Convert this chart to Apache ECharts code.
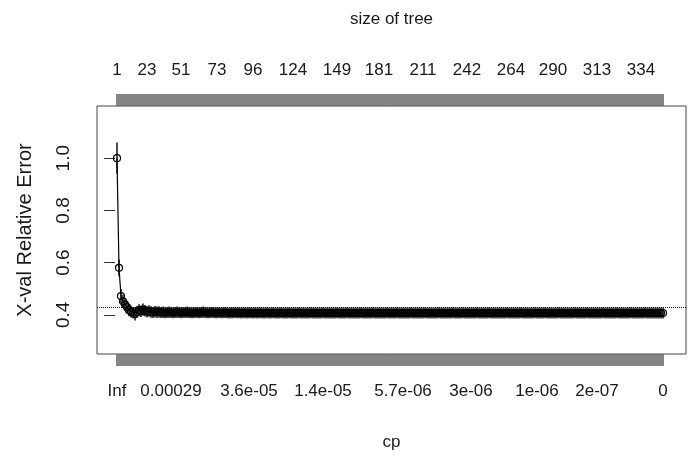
<!DOCTYPE html>
<html>
<head>
<meta charset="utf-8">
<title>cp plot</title>
<script src="https://cdn.jsdelivr.net/npm/echarts@6.0.0/dist/echarts.min.js"></script>
<style>
html, body { margin: 0; padding: 0; background: #fff; }
#chart { width: 692px; height: 456px; }
</style>
</head>
<body>
<div id="chart"></div>
<script>
// cross-validated relative error, one value per row of the cp table
var xerror = [
    1.000, 0.580, 0.472, 0.452, 0.440, 0.430, 0.418, 0.412, 0.408, 0.404,
    0.410, 0.418, 0.414, 0.420, 0.416, 0.412, 0.415, 0.411, 0.409, 0.412,
    0.410, 0.411, 0.409, 0.410, 0.408, 0.409, 0.410, 0.409, 0.408, 0.409,
    0.410, 0.409, 0.408, 0.409, 0.409, 0.410, 0.409, 0.408, 0.408, 0.409,
    0.409, 0.408, 0.409, 0.410, 0.409, 0.408, 0.408, 0.409, 0.409, 0.408,
    0.408, 0.409, 0.408, 0.408, 0.409, 0.408, 0.407, 0.408, 0.408, 0.409,
    0.408, 0.408, 0.407, 0.408, 0.408, 0.407, 0.408, 0.408, 0.407, 0.408,
    0.407, 0.408, 0.408, 0.407, 0.407, 0.408, 0.407, 0.407, 0.408, 0.407,
    0.407, 0.407, 0.408, 0.407, 0.407, 0.407, 0.408, 0.407, 0.407, 0.407,
    0.407, 0.408, 0.407, 0.407, 0.407, 0.407, 0.407, 0.408, 0.407, 0.407,
    0.407, 0.407, 0.407, 0.408, 0.407, 0.407, 0.407, 0.407, 0.407, 0.407,
    0.408, 0.407, 0.407, 0.407, 0.407, 0.408, 0.407, 0.407, 0.407, 0.407,
    0.407, 0.407, 0.408, 0.407, 0.407, 0.407, 0.407, 0.407, 0.408, 0.407,
    0.407, 0.407, 0.407, 0.407, 0.407, 0.408, 0.407, 0.407, 0.407, 0.407,
    0.408, 0.407, 0.407, 0.407, 0.407, 0.407, 0.407, 0.408, 0.407, 0.407,
    0.407, 0.407, 0.407, 0.407, 0.408, 0.407, 0.407, 0.407, 0.407, 0.407,
    0.407, 0.408, 0.407, 0.407, 0.407, 0.407, 0.407, 0.407, 0.408, 0.407,
    0.407, 0.407, 0.407, 0.408, 0.407, 0.407, 0.407, 0.407, 0.407, 0.407,
    0.408, 0.407, 0.407, 0.407, 0.407, 0.407, 0.408, 0.407, 0.407, 0.407,
    0.407, 0.407, 0.407, 0.407, 0.407, 0.408, 0.407, 0.407, 0.407, 0.407,
    0.407, 0.407, 0.408, 0.407, 0.407, 0.407, 0.407, 0.407, 0.407, 0.408,
    0.407, 0.407, 0.407, 0.407, 0.408, 0.407, 0.407, 0.407, 0.407, 0.407,
    0.407, 0.408, 0.407, 0.407, 0.407, 0.407, 0.407, 0.407, 0.407, 0.408,
    0.407, 0.407, 0.407, 0.407, 0.407, 0.408, 0.407, 0.407, 0.407, 0.407,
    0.407, 0.407, 0.407, 0.408, 0.407, 0.407, 0.407, 0.407, 0.407, 0.407,
    0.408, 0.407, 0.407, 0.407, 0.407, 0.407, 0.407, 0.408, 0.407, 0.407,
    0.407, 0.407, 0.407, 0.407, 0.408, 0.407, 0.407, 0.407, 0.407, 0.407,
    0.407, 0.407, 0.407, 0.407
];

// standard error of xerror
var xstd = [
    0.060, 0.032, 0.026, 0.025, 0.024, 0.024, 0.023, 0.023, 0.022, 0.026,
    0.022, 0.023, 0.022, 0.023, 0.022, 0.022, 0.022, 0.022, 0.021, 0.022,
    0.022, 0.022, 0.021, 0.022, 0.021, 0.021, 0.022, 0.021, 0.021, 0.021,
    0.022, 0.021, 0.021, 0.021, 0.021, 0.022, 0.021, 0.021, 0.021, 0.021,
    0.021, 0.021, 0.021, 0.022, 0.021, 0.021, 0.021, 0.021, 0.021, 0.021,
    0.021, 0.021, 0.021, 0.021, 0.021, 0.021, 0.021, 0.021, 0.021, 0.021,
    0.021, 0.021, 0.021, 0.021, 0.021, 0.021, 0.021, 0.021, 0.021, 0.021,
    0.021, 0.021, 0.021, 0.021, 0.021, 0.021, 0.021, 0.021, 0.021, 0.021,
    0.021, 0.021, 0.021, 0.021, 0.021, 0.021, 0.021, 0.021, 0.021, 0.021,
    0.021, 0.021, 0.021, 0.021, 0.021, 0.021, 0.021, 0.021, 0.021, 0.021,
    0.021, 0.021, 0.021, 0.021, 0.021, 0.021, 0.021, 0.021, 0.021, 0.021,
    0.021, 0.021, 0.021, 0.021, 0.021, 0.021, 0.021, 0.021, 0.021, 0.021,
    0.021, 0.021, 0.021, 0.021, 0.021, 0.021, 0.021, 0.021, 0.021, 0.021,
    0.021, 0.021, 0.021, 0.021, 0.021, 0.021, 0.021, 0.021, 0.021, 0.021,
    0.021, 0.021, 0.021, 0.021, 0.021, 0.021, 0.021, 0.021, 0.021, 0.021,
    0.021, 0.021, 0.021, 0.021, 0.021, 0.021, 0.021, 0.021, 0.021, 0.021,
    0.021, 0.021, 0.021, 0.021, 0.021, 0.021, 0.021, 0.021, 0.021, 0.021,
    0.021, 0.021, 0.021, 0.021, 0.021, 0.021, 0.021, 0.021, 0.021, 0.021,
    0.021, 0.021, 0.021, 0.021, 0.021, 0.021, 0.021, 0.021, 0.021, 0.021,
    0.021, 0.021, 0.021, 0.021, 0.021, 0.021, 0.021, 0.021, 0.021, 0.021,
    0.021, 0.021, 0.021, 0.021, 0.021, 0.021, 0.021, 0.021, 0.021, 0.021,
    0.021, 0.021, 0.021, 0.021, 0.021, 0.021, 0.021, 0.021, 0.021, 0.021,
    0.021, 0.021, 0.021, 0.021, 0.021, 0.021, 0.021, 0.021, 0.021, 0.021,
    0.021, 0.021, 0.021, 0.021, 0.021, 0.021, 0.021, 0.021, 0.021, 0.021,
    0.021, 0.021, 0.021, 0.021, 0.021, 0.021, 0.021, 0.021, 0.021, 0.021,
    0.021, 0.021, 0.021, 0.021, 0.021, 0.021, 0.021, 0.021, 0.021, 0.021,
    0.021, 0.021, 0.021, 0.021, 0.021, 0.021, 0.021, 0.021, 0.021, 0.021,
    0.021, 0.021, 0.021, 0.021
];

// top axis: tree size shown at these row positions
var sizeTickIdx = [1, 16, 33, 51, 69, 89, 111, 132, 154, 176, 198, 219, 241, 263];
var sizeLabels = ['1', '23', '51', '73', '96', '124', '149', '181', '211', '242', '264', '290', '313', '334'];

// bottom axis: cp shown at these row positions
var cpTickIdx = [1, 28, 67, 104, 144, 178, 211, 241, 274];
var cpLabels = ['Inf', '0.00029', '3.6e-05', '1.4e-05', '5.7e-06', '3e-06', '1e-06', '2e-07', '0'];

var yTicks = [0.4, 0.6, 0.8, 1.0];

var FONT = 'Liberation Sans, Arial, sans-serif';

function labelLookup(idx, labels) {
    var m = {};
    for (var i = 0; i < idx.length; i++) {
        m[idx[i]] = labels[i];
    }
    return function(v) {
        return m[v] !== undefined ? m[v] : '';
    };
}

var nRows = xerror.length;
var allIdx = [], points = [], bars = [];
var iMin = 0;
for (var i = 0; i < nRows; i++) {
    allIdx.push(i + 1);
    points.push([i + 1, xerror[i]]);
    bars.push([i + 1, xerror[i] - xstd[i], xerror[i] + xstd[i]]);
    if (xerror[i] < xerror[iMin]) iMin = i;
}
// dotted reference line: min xerror + its standard error
var minLine = xerror[iMin] + xstd[iMin];

var myChart = echarts.init(document.getElementById('chart'));

function xAxisOf(pos, idx, labels, name, nameGap, margin) {
    return {
        type: 'value',
        position: pos,
        min: -9,
        max: 285.5,
        name: name,
        nameLocation: 'middle',
        nameGap: nameGap,
        nameTextStyle: { fontFamily: FONT, fontSize: 17, color: '#1a1a1a' },
        axisLine: { show: false },
        splitLine: { show: false },
        axisTick: {
            show: true,
            customValues: allIdx,
            length: 12,
            lineStyle: { color: '#666', width: 1.6 }
        },
        axisLabel: {
            customValues: idx,
            margin: margin,
            fontFamily: FONT,
            fontSize: 17,
            color: '#1a1a1a',
            formatter: labelLookup(idx, labels)
        }
    };
}

var option = {
    animation: false,
    backgroundColor: '#fff',
    grid: {
        left: 97,
        right: 6,
        top: 106,
        bottom: 102,
        show: true,
        borderColor: '#444',
        borderWidth: 1,
        backgroundColor: 'transparent'
    },
    xAxis: [
        xAxisOf('bottom', cpTickIdx, cpLabels, 'cp', 80, 29),
        xAxisOf('top', sizeTickIdx, sizeLabels, 'size of tree', 78, 27)
    ],
    yAxis: {
        type: 'value',
        min: 0.25,
        max: 1.2,
        name: 'X-val Relative Error',
        nameLocation: 'middle',
        nameGap: 62,
        nameRotate: 90,
        nameTextStyle: { fontFamily: FONT, fontSize: 20, color: '#1a1a1a' },
        axisLine: { show: false },
        splitLine: { show: false },
        axisTick: {
            show: true,
            customValues: yTicks,
            length: 11,
            lineStyle: { color: '#333' }
        },
        axisLabel: {
            customValues: yTicks,
            rotate: 90,
            margin: 24,
            fontFamily: FONT,
            fontSize: 19,
            color: '#1a1a1a',
            formatter: function(v) { return v.toFixed(1); }
        }
    },
    series: [
        {
            type: 'custom',
            xAxisIndex: 0,
            yAxisIndex: 0,
            data: bars,
            encode: { x: 0, y: [1, 2] },
            silent: true,
            renderItem: function(params, api) {
                var x = api.value(0);
                var lo = api.coord([x, api.value(1)]);
                var hi = api.coord([x, api.value(2)]);
                return {
                    type: 'line',
                    shape: { x1: lo[0], y1: lo[1], x2: hi[0], y2: hi[1] },
                    style: { stroke: '#222', lineWidth: 1.6 }
                };
            }
        },
        {
            type: 'line',
            xAxisIndex: 0,
            yAxisIndex: 0,
            data: points,
            symbol: 'circle',
            symbolSize: 7,
            showAllSymbol: true,
            itemStyle: { color: 'rgba(0,0,0,0)', borderColor: '#000', borderWidth: 1.2 },
            lineStyle: { color: '#000', width: 1.2 },
            silent: true,
            markLine: {
                silent: true,
                symbol: 'none',
                label: { show: false },
                lineStyle: { color: '#111', type: 'dotted', width: 1 },
                data: [{ yAxis: minLine }]
            }
        }
    ]
};

myChart.setOption(option);
</script>
</body>
</html>
